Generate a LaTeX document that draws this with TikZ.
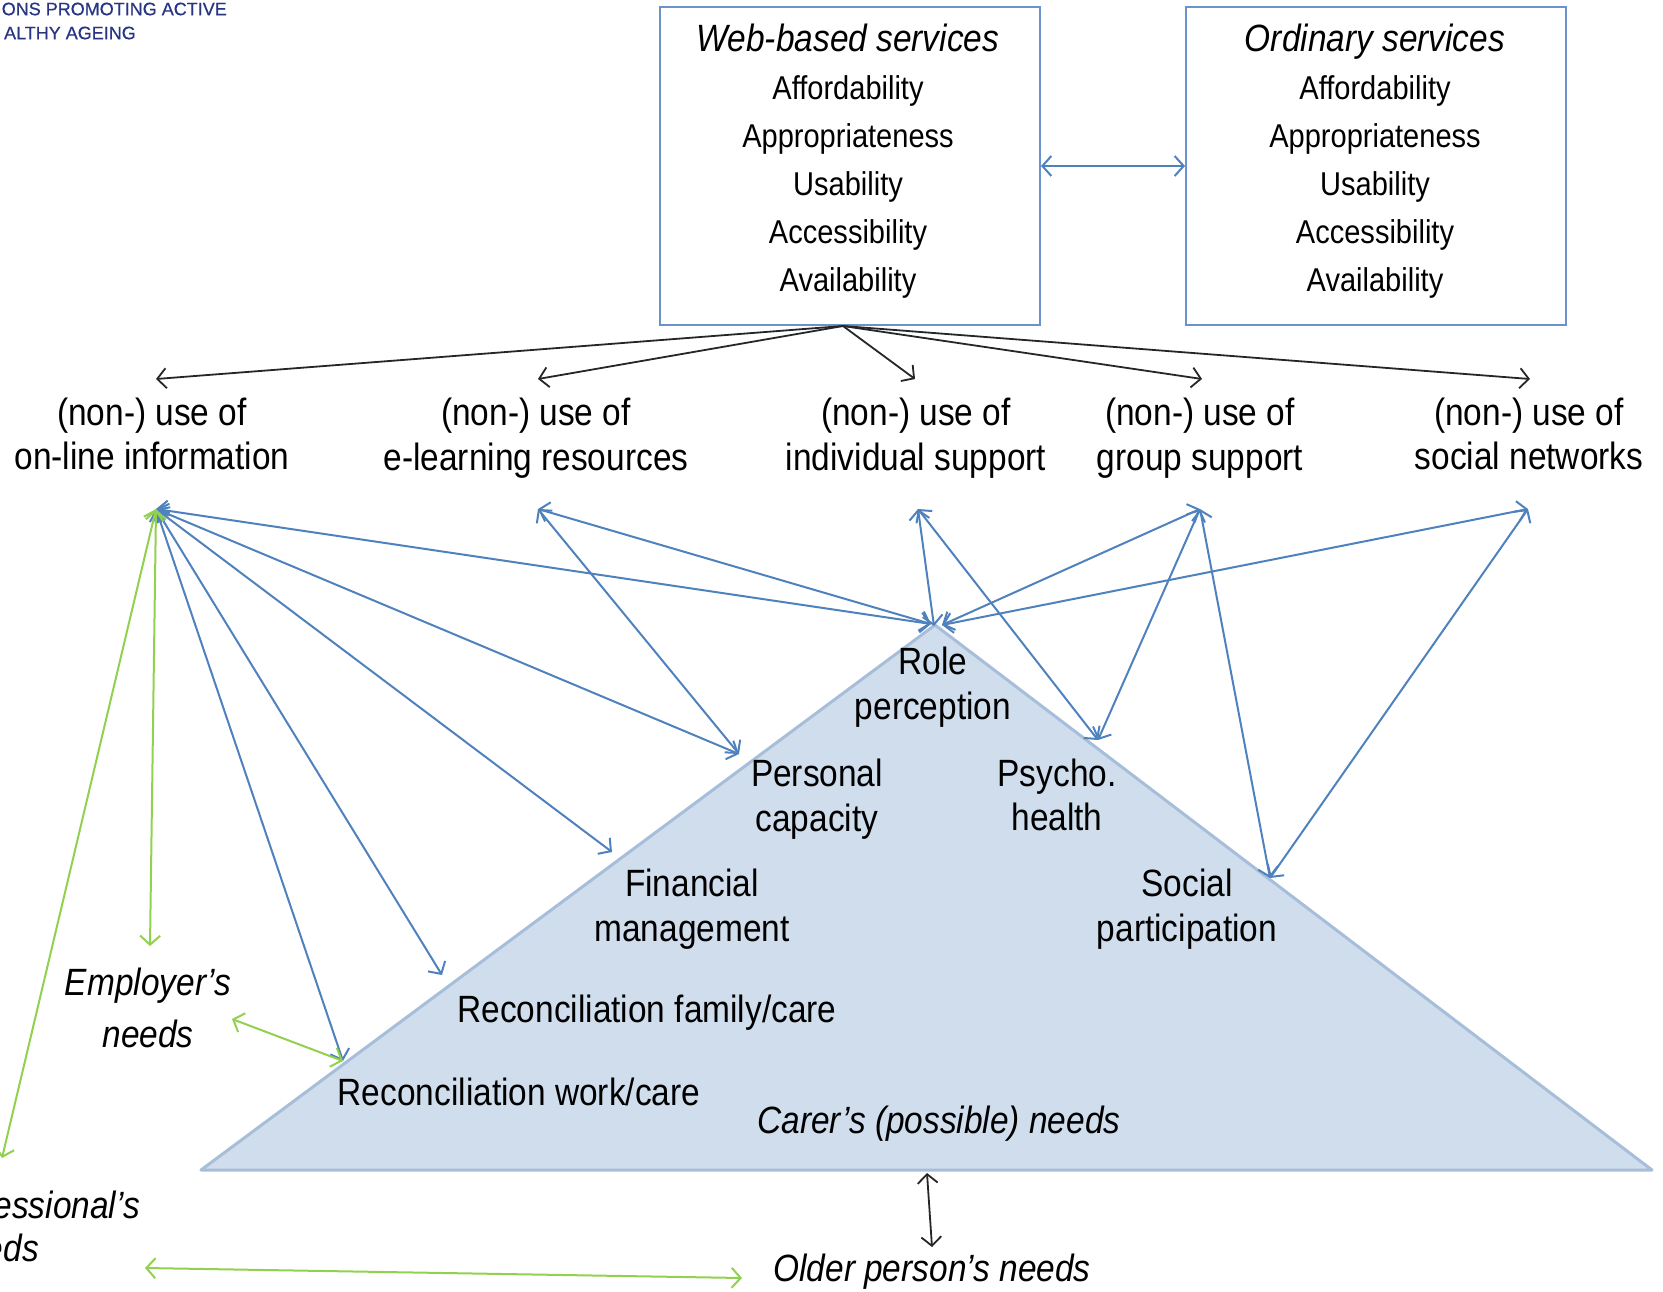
\documentclass[tikz,border=0pt]{standalone}
\usepackage{fontspec}
\setmainfont[FakeStretch=0.88]{Liberation Sans}
\newfontfamily\hdrfont[FakeBold=0.6]{Liberation Sans}
\usetikzlibrary{arrows.meta}
\definecolor{arrblue}{HTML}{4F81BD}
\definecolor{arrgreen}{HTML}{92D050}
\definecolor{trifill}{HTML}{D0DDEC}
\definecolor{triedge}{HTML}{A7BEDA}
\definecolor{boxedge}{HTML}{6A92CB}
\definecolor{hdrblue}{HTML}{283583}
\definecolor{darkline}{HTML}{262626}
\begin{document}
\begin{tikzpicture}[x=1pt,y=-1pt,
  >={Straight Barb[length=9pt,width=20pt]},
  lab/.style={align=center, inner sep=0pt, font=\fontsize{38}{44.5}\selectfont},
  ilab/.style={align=center, inner sep=0pt, font=\fontsize{38}{52}\selectfont\itshape},
  boxtxt/.style={align=center, inner sep=0pt, font=\fontsize{33}{48}\selectfont},
  svcbox/.style={draw=boxedge, line width=2pt, minimum width=380pt, minimum height=318pt, inner sep=0pt},
  hdr/.style={inner sep=0pt, anchor=east, text=hdrblue, font=\hdrfont\fontsize{18}{20}\selectfont},
  blk/.style={draw=darkline, line width=1.8pt, ->},
  bl/.style={draw=arrblue, line width=2pt, <->},
  gr/.style={draw=arrgreen, line width=2pt, <->}
]
\useasboundingbox (0,0) rectangle (1663,1291);

% header fragments
\node[hdr] (h1) at (227,9) {ONS PROMOTING ACTIVE};
\node[hdr] (h2) at (136,33) {ALTHY AGEING};

% service boxes
\node[svcbox] (web) at (850,166) {};
\node[svcbox] (ord) at (1376,166) {};
\node[boxtxt] (webt) at (848,161) {{\fontsize{38}{48}\selectfont\itshape Web-based services}\\Affordability\\Appropriateness\\Usability\\Accessibility\\Availability};
\node[boxtxt] (ordt) at (1375,161) {{\fontsize{38}{48}\selectfont\itshape Ordinary services}\\Affordability\\Appropriateness\\Usability\\Accessibility\\Availability};
\draw[bl] (web.east) -- (ord.west);

% triangle
\fill[trifill, draw=triedge, line width=3pt, line join=round] (201,1170) -- (935,625) -- (1652,1170) -- cycle;

% labels
\node[lab] (L1) at (152,434) {(non-) use of\\on-line information};
\node[lab] (L2) at (536,438) {(non-) use of\\e-learning resources};
\node[lab] (L3) at (916,438) {(non-) use of\\individual support};
\node[lab] (L4) at (1200,438) {(non-) use of\\group support};
\node[lab] (L5) at (1529,434) {(non-) use of\\social networks};

% coordinates
\coordinate (src) at (843,326);
\coordinate (a1) at (156,379);
\coordinate (a2) at (538,379);
\coordinate (a3) at (915,379);
\coordinate (a4) at (1202,379);
\coordinate (a5) at (1530,379);
\coordinate (t1) at (156,509);
\coordinate (t2) at (538,509);
\coordinate (t3) at (918,509);
\coordinate (t4) at (1200,509);
\coordinate (t5) at (1528,509);
\coordinate (roleL) at (931,624);
\coordinate (roleM) at (934,626);
\coordinate (roleR) at (942,625);
\coordinate (pers) at (739,754);
\coordinate (fin) at (612,852);
\coordinate (rfam) at (442,975);
\coordinate (rwork) at (343,1061);
\coordinate (psy) at (1098,740);
\coordinate (soc) at (1270,878);
\coordinate (emptop) at (150,946);
\coordinate (empside) at (232,1019);
\coordinate (prof) at (2,1158);
\coordinate (gl) at (145,1268);
\coordinate (gr) at (742,1278);
\coordinate (trib) at (927,1173);
\coordinate (oldt) at (932,1247);

% black arrows
\draw[blk] (src) -- (a1);
\draw[blk] (src) -- (a2);
\draw[blk] (src) -- (a3);
\draw[blk] (src) -- (a4);
\draw[blk] (src) -- (a5);

% blue arrows
\draw[bl] (t1) -- (roleL);
\draw[bl] (t1) -- (pers);
\draw[bl] (t1) -- (fin);
\draw[bl] (t1) -- (rfam);
\draw[bl] (t1) -- (rwork);
\draw[bl] (t2) -- (roleL);
\draw[bl] (t2) -- (pers);
\draw[bl] (t3) -- (roleM);
\draw[bl] (t3) -- (psy);
\draw[bl] (t4) -- (roleR);
\draw[bl] (t4) -- (psy);
\draw[bl] (t4) -- (soc);
\draw[bl] (t5) -- (roleR);
\draw[bl] (t5) -- (soc);

% green arrows
\draw[gr] (t1) -- (emptop);
\draw[gr] (t1) -- (prof);
\draw[gr] (empside) -- (rwork);
\draw[gr] (gl) -- (gr);

% black double arrow
\draw[draw=darkline, line width=1.8pt, <->] (trib) -- (oldt);

% triangle labels
\node[lab] (role) at (933,687) {Role\\perception};
\node[lab] (perscap) at (817,799) {Personal\\capacity};
\node[lab] (psych) at (1057,795) {Psycho.\\health};
\node[lab] (finm) at (692,909) {Financial\\management};
\node[lab] (socp) at (1187,909) {Social\\participation};
\node[lab] (recf) at (647,1013) {Reconciliation family/care};
\node[lab] (recw) at (519,1092) {Reconciliation work/care};
\node[ilab] (carer) at (939,1124) {Carer’s (possible) needs};
\node[ilab] (employer) at (148,1008) {Employer’s\\needs};
\node[ilab] (older) at (932,1272) {Older person’s needs};
\node[ilab, anchor=east] (prof1) at (140,1205) {essional’s};
\node[ilab, anchor=east] (prof2) at (39,1248) {eds};
\end{tikzpicture}
\end{document}
